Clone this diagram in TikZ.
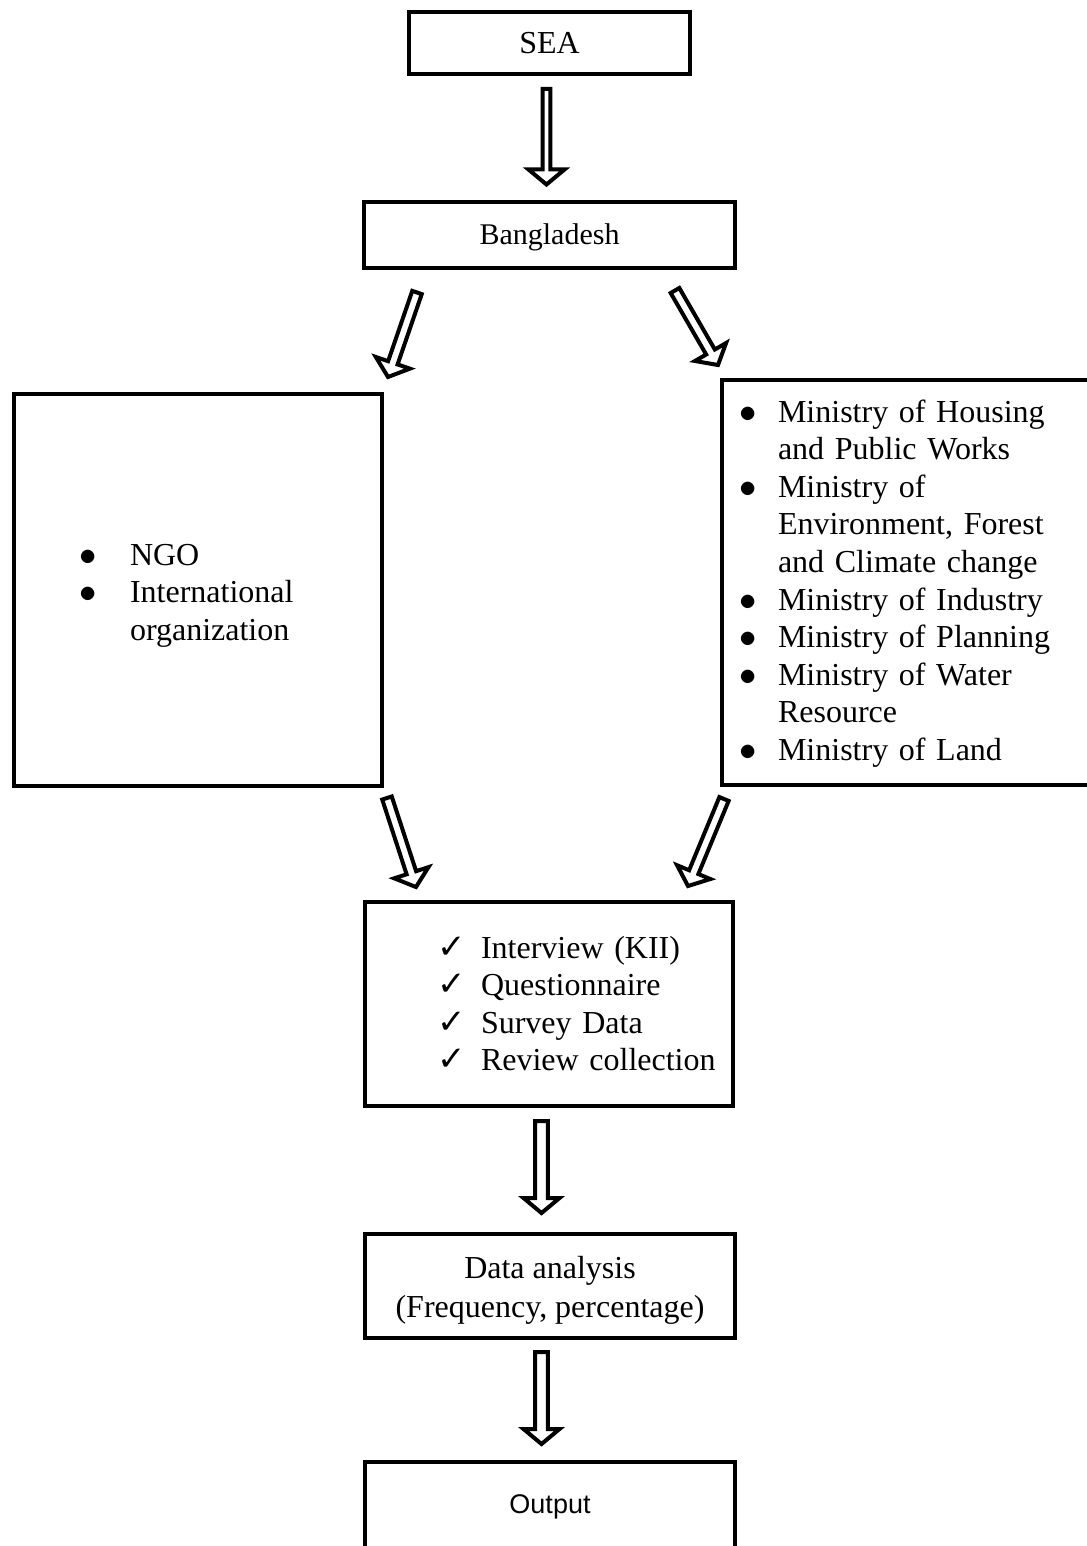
\documentclass[tikz,border=0pt]{standalone}
\usepackage{fontspec}
\setmainfont{Liberation Serif}
\newfontfamily\arialfont{Liberation Sans}
\newfontfamily\tickfont{DejaVu Sans}
\usetikzlibrary{calc}
\tikzstyle{block} = [draw, line width=2pt, rectangle, inner sep=0pt,
    font=\fontsize{16}{18.8}\selectfont]
\tikzstyle{listblock} = [block, align=left]
\tikzstyle{hollow} = [draw, line width=2pt, fill=white, line join=miter]
\newcommand{\chk}{\makebox[10pt][l]{\tickfont\fontsize{17}{17}\selectfont ✓}}
\newcommand{\blt}{\makebox[8pt]{$\bullet$}}
% hollow block arrow from #2 to #3, #1 = half width of the shaft
\newcommand{\hollowarrow}[3][2.5pt]{%
  \path ($(#3)!7.5pt!(#2)$) coordinate (hb);
  \draw[hollow] ($(#2)!#1!90:(#3)$) -- ($(hb)!#1!90:(#3)$) -- ($(hb)!9pt!90:(#3)$) -- (#3)
    -- ($(hb)!9pt!-90:(#3)$) -- ($(hb)!#1!-90:(#3)$) -- ($(#2)!#1!-90:(#3)$) -- cycle;}

\begin{document}
\begin{tikzpicture}[x=0.5pt, y=-0.5pt]
    \useasboundingbox (0,0) rectangle (1086,1546);
    % We start by placing the blocks
    \node [block, minimum width=140.5pt, minimum height=31pt] (sea) at (549.5,43) {SEA};
    \node [block, minimum width=185.5pt, minimum height=32.5pt,
        font=\fontsize{15}{18}\selectfont, text height=12pt, text depth=2pt] (bangla) at (549.5,235) {Bangladesh};
    \node [listblock, text width=184pt, minimum height=196pt] (ngo) at (198,590)
        {\hspace*{33pt}\raisebox{12.5pt}[0pt][0pt]{\begin{tabular}[t]{@{}l@{\hspace{17pt}}l@{}}
         \blt & NGO\\
         \blt & International\\
              & organization
         \end{tabular}}};
    \node [listblock, text width=188pt, minimum height=202.5pt] (ministry) at (910,582.5)
        {\hspace*{9pt}\raisebox{80.25pt}[0pt][0pt]{\begin{tabular}[t]{@{}l@{\hspace{11pt}}l@{}}
         \blt & Ministry of Housing\\
              & and Public Works\\
         \blt & Ministry of\\
              & Environment, Forest\\
              & and Climate change\\
         \blt & Ministry of Industry\\
         \blt & Ministry of Planning\\
         \blt & Ministry of Water\\
              & Resource\\
         \blt & Ministry of Land
         \end{tabular}}};
    \node [listblock, text width=184pt, minimum height=102pt] (methods) at (549,1004)
        {\hspace*{36pt}\raisebox{23pt}[0pt][0pt]{\begin{tabular}[t]{@{}l@{\hspace{12pt}}l@{}}
         \chk & Interview (KII)\\
         \chk & Questionnaire\\
         \chk & Survey Data\\
         \chk & Review collection
         \end{tabular}}};
    \node [block, minimum width=185pt, minimum height=52pt,
        font=\fontsize{16}{19.5}\selectfont] (analysis) at (550,1286)
        {\raisebox{4pt}[0pt][0pt]{\begin{tabular}[t]{@{}c@{}}
         Data analysis\\(Frequency, percentage)
         \end{tabular}}};
    \node [block, minimum width=185pt, text height=25.5pt, text depth=23.5pt,
        font=\arialfont\fontsize{13.5}{15}\selectfont] (output) at (550,1511) {Output};
    % Ends of the arrows
    \coordinate (a1s) at ($(sea.south)+(-3,13)$);
    \coordinate (a1e) at ($(bangla.north)+(-3,-16)$);
    \coordinate (a2s) at ($(bangla.south)+(-132.5,23)$);
    \coordinate (a2e) at ($(ngo.north east)+(4,-15)$);
    \coordinate (a3s) at ($(bangla.south)+(125.5,21)$);
    \coordinate (a3e) at ($(ministry.north west)+(-2,-13)$);
    \coordinate (a4s) at ($(ngo.south east)+(3,10)$);
    \coordinate (a4e) at ($(methods.north)+(-133,-13)$);
    \coordinate (a5s) at ($(ministry.south west)+(4,12)$);
    \coordinate (a5e) at ($(methods.north)+(139,-14)$);
    \coordinate (a6s) at ($(methods.south)+(-7.5,13)$);
    \coordinate (a6e) at ($(analysis.north)+(-8.5,-19)$);
    \coordinate (a7s) at ($(analysis.south)+(-8.5,12)$);
    \coordinate (a7e) at ($(output.north)+(-8.5,-16)$);
    % We draw the hollow arrows between the blocks
    \hollowarrow[1.9pt]{a1s}{a1e}
    \hollowarrow{a2s}{a2e}
    \hollowarrow{a3s}{a3e}
    \hollowarrow{a4s}{a4e}
    \hollowarrow{a5s}{a5e}
    \hollowarrow[3.2pt]{a6s}{a6e}
    \hollowarrow[3.2pt]{a7s}{a7e}
\end{tikzpicture}
\end{document}
